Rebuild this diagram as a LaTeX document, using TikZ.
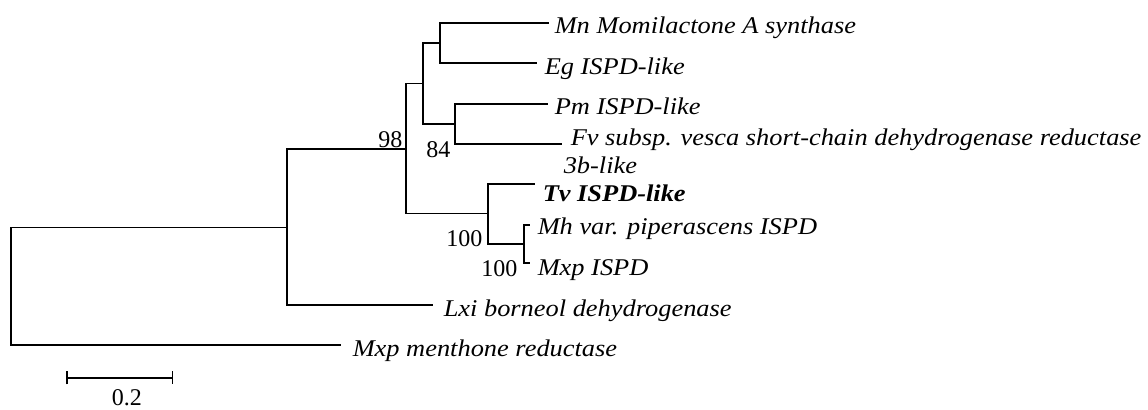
\documentclass[tikz,border=0pt]{standalone}
\usepackage{fontspec}
\setmainfont{Liberation Serif}
\newfontfamily\taxonfont{Liberation Serif}[FakeStretch=1.1]
\usetikzlibrary{arrows.meta}

\begin{document}
\begin{tikzpicture}[x=0.5pt,y=-0.5pt,line width=0.75pt,
    taxon/.style={anchor=base west,inner sep=0pt,font=\fontsize{12}{14}\selectfont\taxonfont\itshape},
    boot/.style={anchor=base east,inner sep=0pt,font=\fontsize{12}{14}\selectfont}]
    \useasboundingbox (0,0) rectangle (1148,410);
    \coordinate (root) at (11,286);
    \coordinate (nA) at (287,227.5);
    \coordinate (n98) at (406,149);
    \coordinate (nB) at (423,83.5);
    \coordinate (nMnEg) at (440,43);
    \coordinate (nPmFv) at (455,124);
    \coordinate (nTv) at (488,213.5);
    \coordinate (nMh) at (524,244);
    \coordinate (tMn) at (549,23);
    \coordinate (tEg) at (537,63);
    \coordinate (tPm) at (548,104);
    \coordinate (tFv) at (562,144);
    \coordinate (tTv) at (535,184);
    \coordinate (tMh) at (530,225);
    \coordinate (tMxp) at (530,263);
    \coordinate (tLxi) at (433,305);
    \coordinate (tMen) at (341,345);
    \draw (root) |- (nA);
    \draw (root) |- (tMen);
    \draw (nA) |- (n98);
    \draw (nA) |- (tLxi);
    \draw (n98) |- (nB);
    \draw (n98) |- (nTv);
    \draw (nB) |- (nMnEg);
    \draw (nB) |- (nPmFv);
    \draw (nMnEg) |- (tMn);
    \draw (nMnEg) |- (tEg);
    \draw (nPmFv) |- (tPm);
    \draw (nPmFv) |- (tFv);
    \draw (nTv) |- (tTv);
    \draw (nTv) |- (nMh);
    \draw (nMh) |- (tMh);
    \draw (nMh) |- (tMxp);
    \node[taxon] (mn) at (554,34) {Mn Momilactone A synthase};
    \node[taxon] (eg) at (544,75) {Eg ISPD-like};
    \node[taxon] (pm) at (554,115) {Pm ISPD-like};
    \node[taxon] (fv) at (570,146) {Fv subsp. vesca short-chain dehydrogenase reductase};
    \node[taxon] (fvb) at (563,174) {3b-like};
    \node[taxon,font=\fontsize{12}{14}\selectfont\taxonfont\bfseries\itshape] (tv) at (542,202) {Tv ISPD-like};
    \node[taxon] (mh) at (537,235) {Mh var. piperascens ISPD};
    \node[taxon] (mxp) at (537,276) {Mxp ISPD};
    \node[taxon] (lxi) at (443,317) {Lxi borneol dehydrogenase};
    \node[taxon] (men) at (352,357) {Mxp menthone reductase};
    \node[boot] (b98) at (403,148) {98};
    \node[boot] (b84) at (451,158) {84};
    \node[boot] (b100a) at (483,247) {100};
    \node[boot] (b100b) at (518,277) {100};
    \coordinate (sL) at (66,378);
    \coordinate (sR) at (173,378);
    \draw[{Bar[width=6.5pt]}-{Bar[width=6.5pt]}] (sL) -- (sR);
    \node[boot,anchor=base] (scale) at (127,406) {0.2};
\end{tikzpicture}
\end{document}
